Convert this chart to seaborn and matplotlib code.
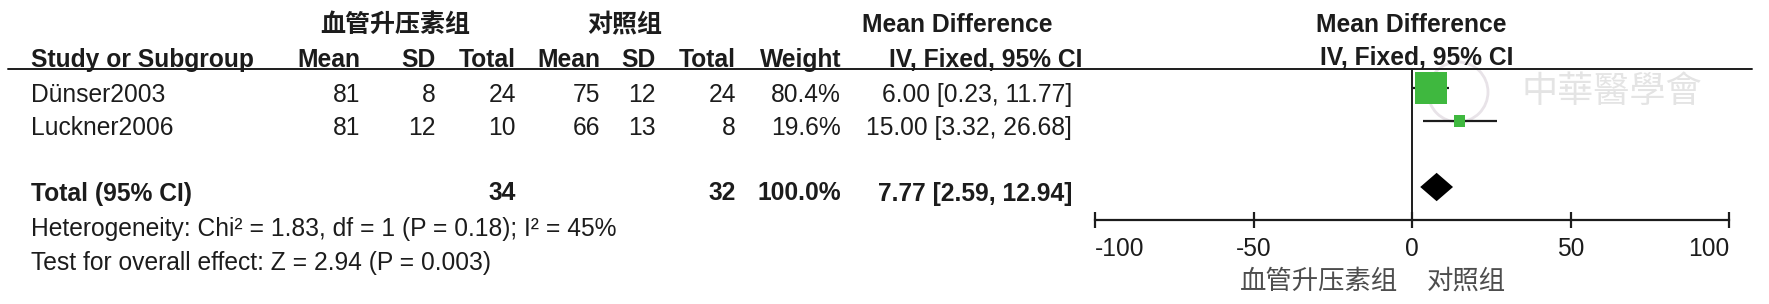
import numpy as np
import pandas as pd
import matplotlib
matplotlib.use("Agg")
import matplotlib.pyplot as plt
from matplotlib.patches import Circle
import seaborn as sns

# ---------------- data ----------------
studies = ["Dünser2003", "Luckner2006"]
vaso_mean = [81, 81]
vaso_sd = [8, 12]
vaso_n = [24, 10]
ctrl_mean = [75, 66]
ctrl_sd = [12, 13]
ctrl_n = [24, 8]
weights = [80.4, 19.6]
md = [6.00, 15.00]
ci_lo = [0.23, 3.32]
ci_hi = [11.77, 26.68]

total_label = "Total (95% CI)"
total_vaso_n = 34
total_ctrl_n = 32
total_weight = 100.0
total_md = 7.77
total_lo = 2.59
total_hi = 12.94

het_text = "Heterogeneity: Chi² = 1.83, df = 1 (P = 0.18); I² = 45%"
test_text = "Test for overall effect: Z = 2.94 (P = 0.003)"

group_vaso = "血管升压素组"
group_ctrl = "对照组"
col_heads = ["Mean", "SD", "Total", "Mean", "SD", "Total", "Weight"]
md_head1 = "Mean Difference"
md_head2 = "IV, Fixed, 95% CI"
xticks = [-100, -50, 0, 50, 100]

# ---------------- style ----------------
sns.set_theme(style="white")
plt.rcParams["font.family"] = ["Liberation Sans", "Noto Sans CJK SC", "DejaVu Sans"]
TXT = "#1c1c1c"
GREEN = "#3fb83f"
FS = 17.7
CJK = ["Noto Sans CJK SC", "DejaVu Sans"]

W, H = 1769, 304
fig = plt.figure(figsize=(W / 100, H / 100), dpi=100)

# overlay axes in pixel units for the table text
ax0 = fig.add_axes([0, 0, 1, 1])
ax0.set_xlim(0, W)
ax0.set_ylim(H, 0)
ax0.axis("off")

# forest plot axes: data scale on x, row index on y
fx0, fx1 = 1095, 1729
fy0, fy1 = 68, 220
ax = fig.add_axes([fx0 / W, (H - fy1) / H, (fx1 - fx0) / W, (fy1 - fy0) / H])
ax.patch.set_alpha(0)
ax.set_xlim(-100, 100)
ax.set_ylim(4.0, -0.606)

# ---------- table columns ----------
x_study = 31
x_cols = [360, 436, 516, 600, 656, 736, 841]
x_ci = 1072
y_h1, y_h2 = 25, 60
row_y = [95, 128]
y_total = 193.5
y_het, y_test = 229, 263

ax0.text(395, y_h1, group_vaso, ha="center", va="center", fontsize=18,
         fontweight="bold", color=TXT, family=CJK)
ax0.text(625, y_h1, group_ctrl, ha="center", va="center", fontsize=18,
         fontweight="bold", color=TXT, family=CJK)
ax0.text(957, y_h1, md_head1, ha="center", va="center", fontsize=FS,
         fontweight="bold", color=TXT)
ax0.text(x_study, y_h2, "Study or Subgroup", ha="left", va="center",
         fontsize=FS, fontweight="bold", color=TXT)
for xc, hd in zip(x_cols, col_heads):
    ax0.text(xc, y_h2, hd, ha="right", va="center", fontsize=FS,
             fontweight="bold", color=TXT)
ax0.text(x_ci + 10, y_h2, md_head2, ha="right", va="center", fontsize=FS,
         fontweight="bold", color=TXT)

# header rule across the figure
ax0.axhline(68.5, xmin=8 / W, xmax=1752 / W, color=TXT, lw=1.4)

for i, s in enumerate(studies):
    y = row_y[i]
    vals = [vaso_mean[i], vaso_sd[i], vaso_n[i], ctrl_mean[i], ctrl_sd[i],
            ctrl_n[i], f"{weights[i]:.1f}%"]
    ax0.text(x_study, y, s, ha="left", va="center", fontsize=FS, color=TXT)
    for xc, v in zip(x_cols, vals):
        ax0.text(xc, y, str(v), ha="right", va="center", fontsize=FS, color=TXT)
    ax0.text(x_ci, y, f"{md[i]:.2f} [{ci_lo[i]:.2f}, {ci_hi[i]:.2f}]",
             ha="right", va="center", fontsize=FS, color=TXT)

ax0.text(x_study, y_total, total_label, ha="left", va="center", fontsize=FS,
         fontweight="bold", color=TXT)
for xc, v in [(x_cols[2], total_vaso_n), (x_cols[5], total_ctrl_n),
              (x_cols[6], f"{total_weight:.1f}%")]:
    ax0.text(xc, y_total, str(v), ha="right", va="center", fontsize=FS,
             fontweight="bold", color=TXT)
ax0.text(x_ci, y_total, f"{total_md:.2f} [{total_lo:.2f}, {total_hi:.2f}]",
         ha="right", va="center", fontsize=FS, fontweight="bold", color=TXT)
ax0.text(x_study, y_het, het_text, ha="left", va="center", fontsize=FS, color=TXT)
ax0.text(x_study, y_test, test_text, ha="left", va="center", fontsize=FS, color=TXT)

# faint watermark
ax0.add_patch(Circle((1458, 92), 30, fill=False, ec="#e8e3e8", lw=2))
ax0.text(1612, 92, "中華醫學會", ha="center", va="center", fontsize=26,
         color="#e4e4e4", family=["Noto Sans CJK TC", "DejaVu Sans"])

# ---------- forest plot ----------
rows = [0, 1]
df = pd.DataFrame({"study": studies, "md": md, "lo": ci_lo, "hi": ci_hi,
                   "w": weights, "row": rows})
ax.axvline(0, color=TXT, lw=1.4, zorder=1)
ax.hlines(df["row"], df["lo"], df["hi"], color=TXT, lw=1.6, zorder=2)
# square side in points scales with study weight
side_pt = 23.0 * (df["w"] / df["w"].max()) ** 0.7
sns.scatterplot(data=df, x="md", y="row", marker="s", s=side_pt ** 2,
                color=GREEN, linewidth=0, ax=ax, zorder=3, legend=False,
                clip_on=False)
total_row = 3
hh = 0.43
ax.fill([total_lo, total_md, total_hi, total_md],
        [total_row, total_row - hh, total_row, total_row + hh],
        color="black", lw=0, zorder=3)

ax.set_xticks(xticks)
ax.set_xticklabels([str(t) for t in xticks])
ax.set_yticks([])
ax.set_xlabel("")
ax.set_ylabel("")
for sp in ["top", "left", "right"]:
    ax.spines[sp].set_visible(False)
ax.spines["bottom"].set_color(TXT)
ax.spines["bottom"].set_linewidth(1.6)
ax.tick_params(axis="x", direction="inout", length=11, width=1.6,
               color=TXT, labelsize=FS, labelcolor=TXT, pad=6.5, bottom=True)
labels = ax.get_xticklabels()
labels[0].set_horizontalalignment("left")
labels[-1].set_horizontalalignment("right")

# bottom favour labels
ax0.text(1398, 281, group_vaso, ha="right", va="center", fontsize=19,
         color="#4d4d4d", family=CJK)
ax0.text(1427, 281, group_ctrl, ha="left", va="center", fontsize=19,
         color="#4d4d4d", family=CJK)
ax0.text(1411.5, 25, md_head1, ha="center", va="center", fontsize=FS,
         fontweight="bold", color=TXT)
ax0.text(1416.5, 58, md_head2, ha="center", va="center", fontsize=FS,
         fontweight="bold", color=TXT)

fig.savefig("out.png", dpi=100)
